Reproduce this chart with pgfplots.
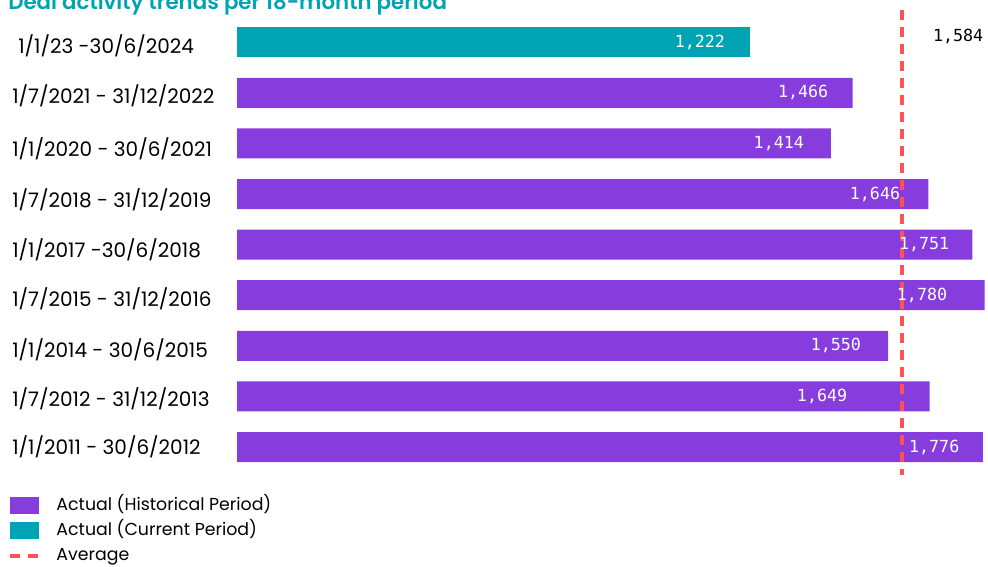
\documentclass[border=0pt]{standalone}
\usepackage{pgfplots}
\pgfplotsset{compat=1.18}
\usepackage{fontspec}
\setmainfont{Poppins}
\newfontfamily\titlefont{Poppins SemiBold}
\newfontfamily\valfont{DejaVu Sans Mono}
\definecolor{hist}{HTML}{873CDD}
\definecolor{curr}{HTML}{00A3B4}
\definecolor{avg}{HTML}{FF5252}
\begin{document}
\begin{tikzpicture}[x=0.75pt,y=0.75pt]
\node[anchor=base west, text=curr, font=\titlefont\fontsize{16}{18}\selectfont, inner sep=0pt] at (8,557) {Deal activity trends per 18-month period};
\begin{axis}[
  at={(177.75pt,71.0pt)}, anchor=south west,
  scale only axis, width=560.7pt, height=341.55pt,
  xmin=0, xmax=1780, ymin=-0.5, ymax=8.5, y dir=reverse,
  hide x axis, hide y axis, clip=false,
  legend cell align=left,
  legend style={draw=none, fill=none, at={(rel axis cs:-0.306,-0.050)}, anchor=north west,
    font=\fontsize{13}{15}\selectfont, inner sep=0pt, row sep=4.5pt,
    nodes={inner sep=1pt, text depth=2.5pt, text height=10pt},
    /tikz/every even column/.append style={column sep=0pt}},
]
\addplot[xbar, bar width=22.5pt, bar shift=0pt, fill=hist, draw=none,
  legend image code/.code={\fill[hist] (0pt,-6.4pt) rectangle (21.75pt,6.4pt); \path (32pt,0pt);}]
  coordinates {(1466,1) (1414,2) (1646,3) (1751,4) (1780,5) (1550,6) (1649,7) (1776,8)};
\addlegendentry{Actual (Historical Period)}
\addplot[xbar, bar width=22.5pt, bar shift=0pt, fill=curr, draw=none,
  legend image code/.code={\fill[curr] (0pt,-6.4pt) rectangle (21.75pt,6.4pt); \path (32pt,0pt);}]
  coordinates {(1222,0)};
\addlegendentry{Actual (Current Period)}
\addplot[avg, line width=3pt, dash pattern=on 7.5pt off 5.25pt, no markers,
  legend image code/.code={\draw[avg, line width=3pt] (0pt,0pt) -- (8.25pt,0pt) (13.5pt,0pt) -- (21.75pt,0pt); \path (32pt,0pt);}]
  coordinates {(1584,-0.63) (1584,8.56)};
\addlegendentry{Average}
% value labels
\begin{scope}[every node/.style={text=white, font=\valfont\fontsize{12.5}{14}\selectfont}]
\node at (axis cs:1102,0) {1,222};
\node at (axis cs:1348,1) {1,466};
\node at (axis cs:1290,2) {1,414};
\node at (axis cs:1519,3) {1,646};
\node at (axis cs:1636,4) {1,751};
\node at (axis cs:1631,5) {1,780};
\node at (axis cs:1426,6) {1,550};
\node at (axis cs:1393,7) {1,649};
\node at (axis cs:1660,8) {1,776};
\end{scope}
\node[text=black, font=\valfont\fontsize{12.5}{14}\selectfont] at (axis cs:1717,-0.12) {1,584};
% category labels
\begin{scope}[every node/.style={anchor=west, inner sep=0pt, font=\fontsize{15}{17}\selectfont}]
\node[xshift=-164.25pt, yshift=-3pt] at (axis cs:0,0) {1/1/23 -30/6/2024};
\node[xshift=-168.75pt, yshift=-2pt] at (axis cs:0,1) {1/7/2021 - 31/12/2022};
\node[xshift=-168.75pt, yshift=-4pt] at (axis cs:0,2) {1/1/2020 - 30/6/2021};
\node[xshift=-168.75pt, yshift=-4pt] at (axis cs:0,3) {1/7/2018 - 31/12/2019};
\node[xshift=-168.75pt, yshift=-4pt] at (axis cs:0,4) {1/1/2017 -30/6/2018};
\node[xshift=-168.75pt, yshift=-3pt] at (axis cs:0,5) {1/7/2015 - 31/12/2016};
\node[xshift=-168.75pt, yshift=-3pt] at (axis cs:0,6) {1/1/2014 - 30/6/2015};
\node[xshift=-168.75pt, yshift=-2pt] at (axis cs:0,7) {1/7/2012 - 31/12/2013};
\node[xshift=-168.75pt, yshift=0pt] at (axis cs:0,8) {1/1/2011 - 30/6/2012};
\end{scope}
\end{axis}
\pgfresetboundingbox
\useasboundingbox (0,0) rectangle (988,567);
\end{tikzpicture}
\end{document}
